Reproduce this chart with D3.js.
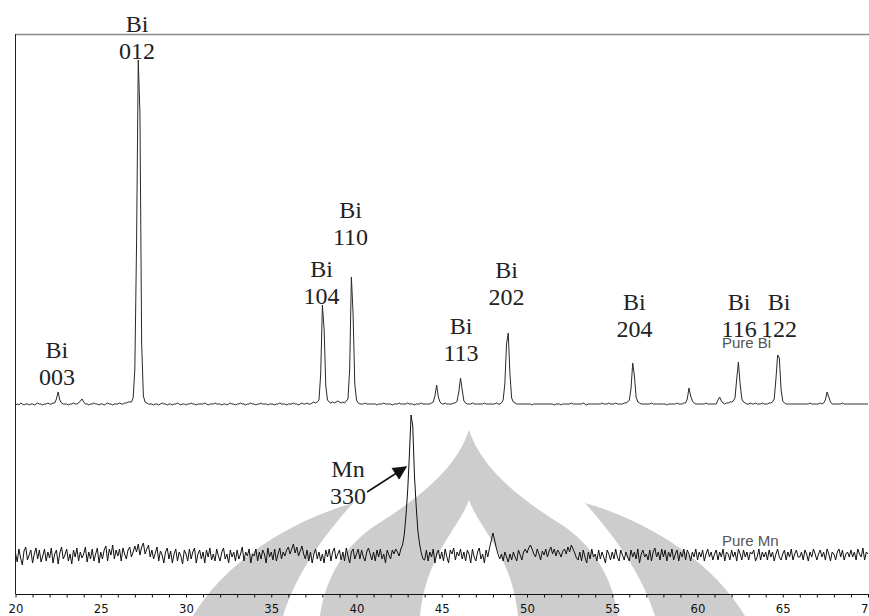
<!DOCTYPE html>
<html>
<head>
<meta charset="utf-8">
<script src="https://cdn.jsdelivr.net/npm/d3@7"></script>
<style>
  html, body { margin: 0; padding: 0; background: #fff; }
  svg { display: block; }
</style>
</head>
<body>
<div id="chart"></div>
<script>
// 2-theta grid: 20.0 .. 70.0 in 0.1 deg steps (one row per degree)
const twoThetaStart = 20;
const twoThetaStep = 0.1;

// Pure Bi pattern (counts)
const pureBi = [
  9,10,9,11,10,9,10,10,9,10,
  10,9,10,11,10,10,9,10,10,11,
  10,10,11,11,15,22,14,11,10,10,
  10,9,10,10,11,10,10,11,13,15,
  12,10,10,9,10,10,11,10,10,9,
  10,10,9,10,11,10,10,9,10,10,
  10,11,10,10,11,11,12,12,12,16,
  45,170,354,300,70,18,12,11,10,10,
  10,9,10,10,9,10,11,10,10,9,
  10,10,9,10,10,11,10,9,10,10,
  9,10,10,11,10,10,9,10,10,10,
  10,11,10,9,10,10,10,11,10,10,
  10,9,10,10,9,10,11,10,10,9,
  10,10,11,10,10,9,10,10,11,10,
  10,9,10,10,11,10,10,10,9,10,
  10,10,9,10,10,11,10,10,10,9,
  10,10,10,11,10,10,9,10,11,10,
  10,11,10,10,11,12,11,12,14,40,
  109,85,28,14,12,11,12,11,12,13,
  12,11,12,11,13,15,45,137,100,30,
  14,11,10,10,10,11,10,10,10,10,
  10,10,9,10,10,10,11,10,10,10,
  10,9,10,10,10,11,10,10,10,10,
  11,10,10,10,9,10,10,10,11,10,
  10,10,10,10,11,12,18,29,17,12,
  10,10,11,10,10,10,10,11,11,13,
  22,36,24,13,11,10,10,10,11,10,
  10,10,10,10,10,11,10,10,10,10,
  10,10,11,10,10,11,14,30,70,81,
  40,16,12,11,10,10,10,10,10,10,
  10,10,10,9,10,10,10,10,10,10,
  10,10,10,10,10,10,9,10,10,10,
  9,10,10,10,10,10,11,10,10,10,
  10,10,10,11,10,9,10,10,10,10,
  10,10,10,10,11,10,10,10,11,10,
  10,10,11,10,10,10,10,11,11,12,
  14,25,51,38,17,12,11,10,10,10,
  10,10,10,11,10,10,10,10,10,10,
  10,10,9,10,10,10,10,10,11,10,
  10,10,11,11,15,26,18,13,11,10,
  10,10,10,10,10,11,10,10,10,10,
  10,10,14,17,13,11,10,11,11,12,
  12,13,16,35,52,30,15,12,11,10,
  10,11,10,10,11,10,10,10,11,10,
  10,10,11,11,12,15,35,59,56,25,
  13,11,10,10,10,10,10,10,10,10,
  10,10,10,10,10,10,11,10,10,10,
  10,10,11,10,11,14,22,17,12,10,
  10,10,10,10,10,11,10,10,10,10,
  10,10,10,10,10,10,10,10,10,10,
  10
];

// Pure Mn pattern (counts)
const pureMn = [
  23,14,27,18,11,25,29,16,21,26,
  13,22,28,17,26,14,20,27,15,24,
  18,28,13,22,26,12,23,29,17,21,
  27,15,22,12,26,19,28,15,24,18,
  22,29,14,24,17,27,15,22,28,13,
  24,17,26,30,15,27,21,31,17,26,
  20,27,15,28,22,17,26,29,19,24,
  30,24,32,21,29,33,22,27,31,19,
  26,17,23,29,15,25,21,13,24,28,
  17,25,13,22,27,15,24,20,12,26,
  22,15,27,17,24,28,13,22,26,17,
  24,13,26,19,28,16,22,15,27,20,
  15,24,28,17,22,13,26,19,24,15,
  26,17,22,29,15,24,20,27,13,22,
  20,27,15,24,17,26,22,13,28,19,
  24,16,27,15,22,28,17,24,20,26,
  29,22,27,32,23,29,20,25,30,22,
  17,26,15,24,13,22,27,17,24,15,
  22,13,26,19,27,15,24,28,17,22,
  26,16,24,15,28,20,13,24,27,17,
  22,27,17,26,19,15,24,28,22,16,
  24,15,26,19,27,17,22,13,26,21,
  17,26,22,27,24,20,27,31,41,60,
  85,120,161,150,100,70,45,32,23,17,
  16,26,15,24,19,27,13,22,26,17,
  24,15,27,19,13,26,22,28,16,24,
  20,27,17,24,15,26,22,13,27,19,
  15,24,28,17,22,13,26,19,28,35,
  43,36,28,22,17,22,15,24,19,14,
  22,16,24,19,15,26,21,16,24,27,
  23,28,31,27,22,19,27,22,16,25,
  21,27,19,25,29,22,27,20,26,23,
  19,25,27,22,29,24,31,27,23,18,
  16,24,15,26,19,13,24,17,27,19,
  22,15,26,17,24,19,13,26,22,16,
  24,17,27,19,15,26,21,16,24,19,
  15,26,19,24,17,27,13,22,26,19,
  22,16,26,15,24,28,19,24,16,27,
  19,26,15,24,19,27,16,22,26,15,
  24,19,27,16,26,22,15,24,19,27,
  16,24,19,26,15,22,27,19,24,16,
  22,26,16,24,19,27,15,24,22,16,
  26,19,24,15,27,22,16,26,19,24,
  16,24,22,26,15,19,27,16,24,19,
  24,16,26,19,24,15,22,27,19,16,
  22,26,16,24,19,27,16,22,26,19,
  19,24,16,26,22,15,24,19,27,22,
  16,22,26,19,24,16,27,22,15,24,
  22,16,24,27,19,26,16,22,24,19,
  26,19,24,16,27,22,19,28,16,24,
  22
];

// vertical offsets used to stack the two patterns
const biOffset = 180;
const mnOffset = 18;

// peak labels: phase, hkl, 2-theta of label centre, level of first line
const labelPhase = ['Bi', 'Bi', 'Bi', 'Bi', 'Bi', 'Bi', 'Bi', 'Bi', 'Bi', 'Mn'];
const labelHkl = ['003', '012', '104', '110', '113', '202', '204', '116', '122', '330'];
const labelTheta = [22.43, 27.13, 37.95, 39.65, 46.13, 48.8, 56.3, 62.44, 64.78, 39.5];
const labelLevel = [236, 562, 317, 376, 260, 316, 284, 284, 284, 117];

// arrow for Mn 330: [2theta, counts] start and tip
const arrowFrom = [40.62, 102];
const arrowTo = [42.9, 127];

const xTicks = d3.range(20, 71, 1);
const xTickLabels = [20, 25, 30, 35, 40, 45, 50, 55, 60, 65, 70];

const width = 869;
const height = 616;

const svg = d3.select('#chart')
  .append('svg')
  .attr('width', width)
  .attr('height', height);

// faint grey logo watermark behind the plot
const mark = svg.append('g').attr('class', 'watermark');
mark.append('path')
  .attr('fill', '#cdcdcd')
  .attr('d', 'M469,430 C482,470 522,500 562,525 C592,545 612,575 618,616 L320,616 C326,575 346,545 376,525 C416,500 456,470 469,430 Z');
mark.append('path')
  .attr('fill', '#fff')
  .attr('d', 'M469,500 C480,530 512,555 518,616 L420,616 C426,555 458,530 469,500 Z');
mark.append('path')
  .attr('fill', '#cdcdcd')
  .attr('d', 'M585,503 C645,520 712,560 745,616 L655,616 C642,575 618,540 585,503 Z');
mark.append('path')
  .attr('fill', '#cdcdcd')
  .attr('d', 'M353,503 C293,520 226,560 193,616 L283,616 C296,575 320,540 353,503 Z');

const x = d3.scaleLinear()
  .domain([20, 70])
  .range([15.5, 868]);

const y = d3.scaleLinear()
  .domain([0, 560])
  .range([594, 34]);

// frame: grey top rule and left rule
svg.append('line')
  .attr('x1', 15.5).attr('x2', width)
  .attr('y1', 34.5).attr('y2', 34.5)
  .attr('stroke', '#8a8a8a')
  .attr('stroke-width', 1.6);

svg.append('line')
  .attr('x1', 15.5).attr('x2', 15.5)
  .attr('y1', 34).attr('y2', 594)
  .attr('stroke', '#222')
  .attr('stroke-width', 1);

// bottom axis, minor tick every degree, labels every 5
const xAxis = d3.axisBottom(x)
  .tickValues(xTicks)
  .tickSize(3)
  .tickSizeOuter(0)
  .tickFormat(d => xTickLabels.includes(d) ? d : '');

const gx = svg.append('g')
  .attr('transform', 'translate(0,594.5)')
  .call(xAxis);

gx.select('.domain').attr('stroke', '#111').attr('d', `M15.5,0H${width}`);
gx.selectAll('.tick line').attr('stroke', '#111');
gx.selectAll('.tick text')
  .attr('y', 9)
  .attr('dy', '0.71em')
  .style('font-family', '"Liberation Sans Narrow", "DejaVu Sans Condensed", sans-serif')
  .style('font-size', '13px')
  .attr('fill', '#111');

// patterns
const thetaOf = i => twoThetaStart + i * twoThetaStep;

const biLine = d3.line()
  .x((d, i) => x(thetaOf(i)))
  .y(d => y(d + biOffset));

const mnLine = d3.line()
  .x((d, i) => x(thetaOf(i)))
  .y(d => y(d + mnOffset));

svg.append('path')
  .datum(pureBi)
  .attr('fill', 'none')
  .attr('stroke', '#2a2a2a')
  .attr('stroke-width', 1)
  .attr('stroke-linejoin', 'round')
  .attr('d', biLine);

svg.append('path')
  .datum(pureMn)
  .attr('fill', 'none')
  .attr('stroke', '#111')
  .attr('stroke-width', 1)
  .attr('stroke-linejoin', 'round')
  .attr('d', mnLine);

// pattern names
svg.append('text')
  .attr('x', 722).attr('y', 348)
  .style('font-family', '"Liberation Sans", Arial, sans-serif')
  .style('font-size', '15px')
  .attr('fill', '#555')
  .text('Pure Bi');

svg.append('text')
  .attr('x', 722).attr('y', 546)
  .style('font-family', '"Liberation Sans", Arial, sans-serif')
  .style('font-size', '15px')
  .attr('fill', '#555')
  .text('Pure Mn');

// peak labels
const labels = svg.append('g')
  .style('font-family', '"Liberation Serif", "Times New Roman", serif')
  .style('font-size', '24px')
  .attr('fill', '#222')
  .attr('text-anchor', 'middle');

labelHkl.forEach((hkl, i) => {
  const t = labels.append('text')
    .attr('x', x(labelTheta[i]))
    .attr('y', y(labelLevel[i]));
  t.append('tspan').attr('x', x(labelTheta[i])).text(labelPhase[i]);
  t.append('tspan').attr('x', x(labelTheta[i])).attr('dy', 27).text(hkl);
});

// arrow to Mn 330 peak
svg.append('defs').append('marker')
  .attr('id', 'head')
  .attr('viewBox', '0 0 10 10')
  .attr('refX', 9).attr('refY', 5)
  .attr('markerWidth', 17).attr('markerHeight', 14)
  .attr('markerUnits', 'userSpaceOnUse')
  .attr('orient', 'auto')
  .append('path')
  .attr('d', 'M0,0L10,5L0,10Z')
  .attr('fill', '#111');

svg.append('line')
  .attr('x1', x(arrowFrom[0])).attr('y1', y(arrowFrom[1]))
  .attr('x2', x(arrowTo[0])).attr('y2', y(arrowTo[1]))
  .attr('stroke', '#111')
  .attr('stroke-width', 1.5)
  .attr('marker-end', 'url(#head)');
</script>
</body>
</html>
